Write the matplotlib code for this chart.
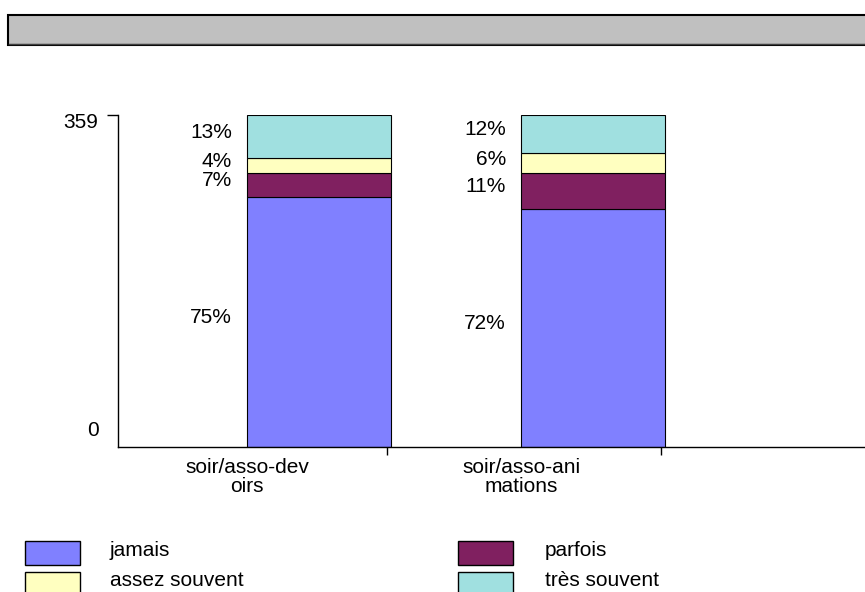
import matplotlib
matplotlib.use("Agg")
import matplotlib.pyplot as plt
from matplotlib.patches import Rectangle
from matplotlib.transforms import ScaledTranslation
import numpy as np

plt.rcParams['font.family'] = ['Liberation Sans', 'DejaVu Sans']

categories = ["soir/asso-dev\noirs", "soir/asso-ani\nmations"]
series = ["jamais", "parfois", "assez souvent", "très souvent"]
colors = ["#8080FF", "#802060", "#FFFFC0", "#A0E0E0"]
# counts per series (bottom to top), per category
values = {
    "jamais":        [270, 257],
    "parfois":       [26, 39],
    "assez souvent": [16, 21],
    "très souvent":  [47, 42],
}
ytick_vals = [0, 359]

FS = 15
W, H = 865, 592
fig = plt.figure(figsize=(W / 100, H / 100), dpi=100)

def fx(px):
    return px / W

def fy(py):
    return 1 - py / H

# empty grey title bar
fig.patches.append(Rectangle((fx(8), fy(45)), fx(870) - fx(8), 30 / H,
                             transform=fig.transFigure, facecolor="#C0C0C0",
                             edgecolor="black", linewidth=1.5, zorder=0))
fig.lines.append(plt.Line2D([fx(9), fx(870)], [fy(44), fy(44)],
                            transform=fig.transFigure, color="#404040", linewidth=1.0))

ax = fig.add_axes([fx(118), fy(447), fx(880) - fx(118), (447 - 114.5) / H])
ax.set_ylim(0, 359)
ax.set_xlim(-0.471, 2.31)
for s in ["top", "right"]:
    ax.spines[s].set_visible(False)
for s in ["left", "bottom"]:
    ax.spines[s].set_linewidth(1.0)

x = np.arange(len(categories))
bar_off = 0.263
bar_w = 0.526
totals = np.sum([values[s] for s in series], axis=0)
bottom = np.zeros(len(categories))
for name, col in zip(series, colors):
    v = np.array(values[name], dtype=float)
    ax.bar(x + bar_off, v, bar_w, bottom=bottom, color=col,
           edgecolor="black", linewidth=0.8, zorder=2)
    for i in range(len(categories)):
        pct = round(100 * v[i] / totals[i])
        ax.annotate(f"{pct}%", xy=(x[i] + bar_off - bar_w / 2, bottom[i] + v[i] / 2),
                    xytext=(-15, 4), textcoords="offset pixels",
                    ha="right", va="center", fontsize=FS)
    bottom += v

# y ticks
ax.set_yticks(ytick_vals)
ax.set_yticklabels([str(t) for t in ytick_vals], fontsize=FS)
ax.tick_params(axis="y", length=8, width=1, pad=6)
ax.yaxis.get_major_ticks()[0].tick1line.set_visible(False)
shifts = {0: 18, 359: -6}
for t, lab in zip(ytick_vals, ax.get_yticklabels()):
    lab.set_transform(lab.get_transform() +
                      ScaledTranslation(0, shifts[t] / 100, fig.dpi_scale_trans))

# x ticks: marks at category boundaries, labels at category positions
ax.set_xticks(x + 0.51)
ax.set_xticklabels([])
ax.tick_params(axis="x", which="major", length=6, width=1)
ax.set_xticks(x, minor=True)
ax.set_xticklabels(categories, minor=True, fontsize=FS, linespacing=1.0)
ax.tick_params(axis="x", which="minor", length=0, pad=8)

# legend drawn manually
for k, (name, col) in enumerate(zip(series, colors)):
    c, r = k % 2, k // 2
    sx = [25, 458][c]
    tx = [110, 545][c]
    top = 541 + 31 * r
    fig.patches.append(Rectangle((fx(sx), fy(top + 24)), 55 / W, 24 / H,
                                 transform=fig.transFigure, facecolor=col,
                                 edgecolor="black", linewidth=1.0))
    fig.text(fx(tx), fy(top + 9), name, ha="left", va="center", fontsize=FS)

fig.savefig("out.png", dpi=100)
